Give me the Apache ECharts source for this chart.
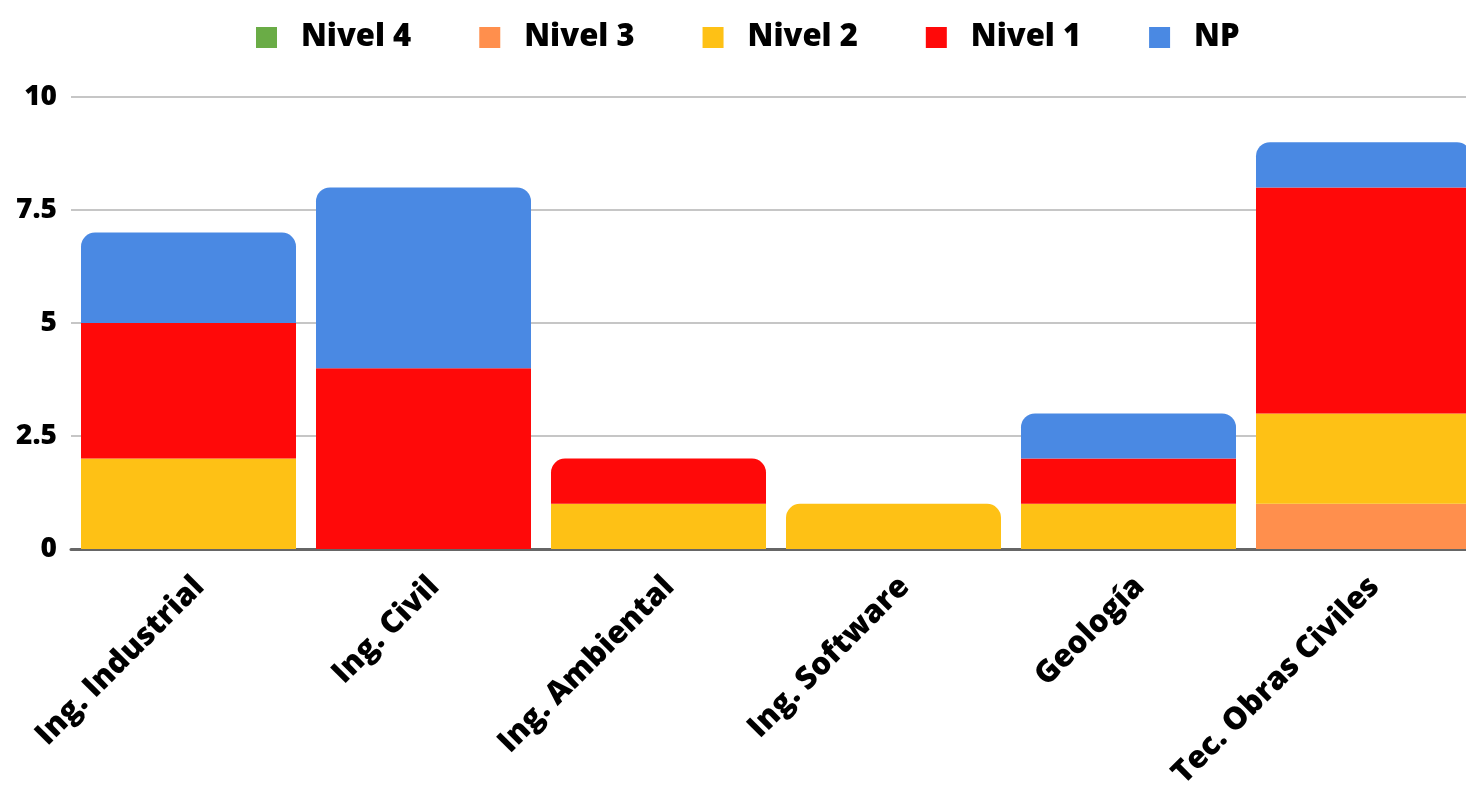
<!DOCTYPE html>
<html>
<head>
<meta charset="utf-8">
<script src="https://cdn.jsdelivr.net/npm/echarts@6/dist/echarts.min.js"></script>
<style>
  html, body { margin: 0; padding: 0; background: #fff; }
  #chart { width: 1466px; height: 787px; }
</style>
</head>
<body>
<div id="chart"></div>
<script>
  var categories = ['Ing. Industrial', 'Ing. Civil', 'Ing. Ambiental', 'Ing. Software', 'Geología', 'Tec. Obras Civiles'];
  var seriesNames = ['Nivel 4', 'Nivel 3', 'Nivel 2', 'Nivel 1', 'NP'];
  var nivel4 = [0, 0, 0, 0, 0, 0];
  var nivel3 = [0, 0, 0, 0, 0, 1];
  var nivel2 = [2, 0, 1, 1, 1, 2];
  var nivel1 = [3, 4, 1, 0, 1, 5];
  var np = [2, 4, 0, 0, 1, 1];
  var yTicks = [0, 2.5, 5, 7.5, 10];

  var values = [nivel4, nivel3, nivel2, nivel1, np];
  var colors = ['#6aac46', '#ff8f4d', '#fec115', '#ff0909', '#4a89e3'];
  var font = '"Open Sans", "DejaVu Sans", sans-serif';

  // top segment of each stack gets rounded corners
  var topIndex = categories.map(function (c, i) {
    var top = -1;
    for (var s = 0; s < values.length; s++) {
      if (values[s][i] > 0) top = s;
    }
    return top;
  });

  var series = seriesNames.map(function (name, s) {
    return {
      name: name,
      type: 'bar',
      stack: 'total',
      barWidth: 215,
      itemStyle: { color: colors[s] },
      data: values[s].map(function (v, i) {
        if (topIndex[i] === s) {
          return { value: v, itemStyle: { borderRadius: [14, 14, 0, 0] } };
        }
        return v;
      })
    };
  });

  var chart = echarts.init(document.getElementById('chart'));

  var option = {
    animation: false,
    textStyle: { fontFamily: font },
    legend: {
      top: 17,
      left: 251,
      itemWidth: 21,
      itemHeight: 21,
      itemGap: 68,
      icon: 'rect',
      textStyle: { fontSize: 31, fontWeight: 800, color: '#000', fontFamily: font, padding: [0, 0, 0, 19] },
      data: seriesNames
    },
    grid: {
      left: 71,
      width: 1410,
      top: 97,
      height: 452,
      outerBoundsMode: 'none'
    },
    xAxis: {
      type: 'category',
      data: categories,
      axisLine: { lineStyle: { color: '#666', width: 3 } },
      axisTick: { show: false },
      axisLabel: {
        rotate: 45,
        interval: 0,
        margin: 22,
        verticalAlign: 'top',
        fontSize: 31,
        fontWeight: 800,
        color: '#000',
        fontFamily: font
      }
    },
    yAxis: {
      type: 'value',
      min: yTicks[0],
      max: yTicks[yTicks.length - 1],
      interval: 2.5,
      axisLine: { show: false },
      axisTick: { show: false },
      splitLine: { lineStyle: { color: '#c6c6c6', width: 2 } },
      axisLabel: {
        margin: 14,
        fontSize: 28,
        fontWeight: 800,
        color: '#000',
        fontFamily: font
      }
    },
    series: series
  };

  chart.setOption(option);
</script>
</body>
</html>
